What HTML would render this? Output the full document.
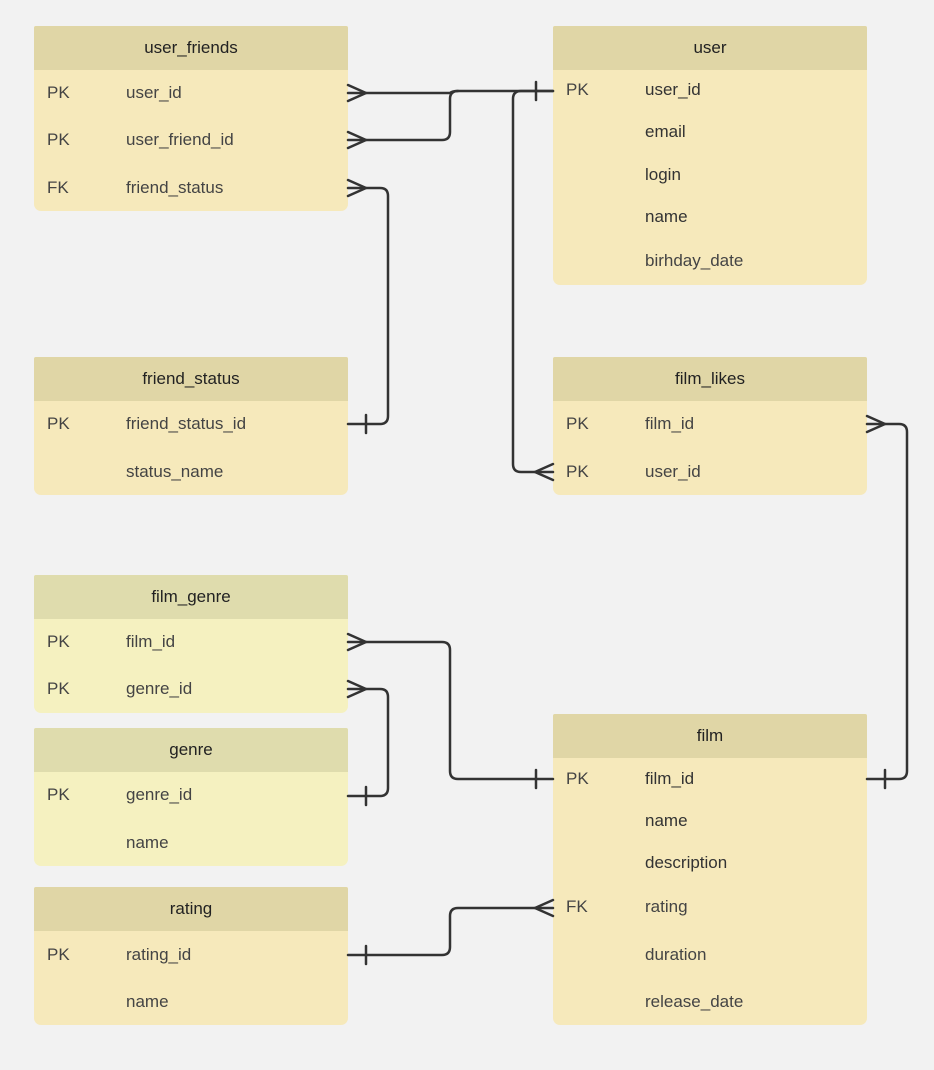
<!DOCTYPE html>
<html><head><meta charset="utf-8"><style>
body{margin:0;width:934px;height:1070px;background:#f2f2f2;position:relative;overflow:hidden;font-family:"Liberation Sans",sans-serif;}
.t{position:absolute;width:314px;background:#f6e9bb;border-radius:2px 2px 7px 7px;overflow:hidden;}
.t.g{background:#f5f1c0;}
.h{height:44px;line-height:44px;text-align:center;background:#e0d6a6;color:#222;font-size:17px;}
.t.g .h{background:#dfdcad;}
.r{position:absolute;font-size:17px;color:#444;line-height:20px;}
.k{left:13px}.f{left:92px}
svg{position:absolute;left:0;top:0}
</style></head><body>

<div class="t" style="left:34px;top:26px;height:185px"><div class="h">user_friends</div>
<div class="r k" style="top:57px">PK</div><div class="r f" style="top:57px">user_id</div>
<div class="r k" style="top:104px">PK</div><div class="r f" style="top:104px">user_friend_id</div>
<div class="r k" style="top:152px">FK</div><div class="r f" style="top:152px">friend_status</div></div>

<div class="t" style="left:553px;top:26px;height:259px"><div class="h">user</div>
<div class="r k" style="top:54px">PK</div><div class="r f" style="top:54px;color:#333">user_id</div>
<div class="r f" style="top:96px;color:#333">email</div>
<div class="r f" style="top:139px;color:#333">login</div>
<div class="r f" style="top:181px;color:#333">name</div>
<div class="r f" style="top:225px">birhday_date</div></div>

<div class="t" style="left:34px;top:357px;height:138px"><div class="h">friend_status</div>
<div class="r k" style="top:57px">PK</div><div class="r f" style="top:57px">friend_status_id</div>
<div class="r f" style="top:105px">status_name</div></div>

<div class="t" style="left:553px;top:357px;height:138px"><div class="h">film_likes</div>
<div class="r k" style="top:57px">PK</div><div class="r f" style="top:57px">film_id</div>
<div class="r k" style="top:105px">PK</div><div class="r f" style="top:105px">user_id</div></div>

<div class="t g" style="left:34px;top:575px;height:138px"><div class="h">film_genre</div>
<div class="r k" style="top:57px">PK</div><div class="r f" style="top:57px">film_id</div>
<div class="r k" style="top:104px">PK</div><div class="r f" style="top:104px">genre_id</div></div>

<div class="t g" style="left:34px;top:728px;height:138px"><div class="h">genre</div>
<div class="r k" style="top:57px">PK</div><div class="r f" style="top:57px">genre_id</div>
<div class="r f" style="top:105px">name</div></div>

<div class="t" style="left:34px;top:887px;height:138px"><div class="h">rating</div>
<div class="r k" style="top:58px">PK</div><div class="r f" style="top:58px">rating_id</div>
<div class="r f" style="top:105px">name</div></div>

<div class="t" style="left:553px;top:714px;height:311px"><div class="h">film</div>
<div class="r k" style="top:55px">PK</div><div class="r f" style="top:55px;color:#333">film_id</div>
<div class="r f" style="top:97px;color:#333">name</div>
<div class="r f" style="top:139px;color:#333">description</div>
<div class="r k" style="top:183px">FK</div><div class="r f" style="top:183px">rating</div>
<div class="r f" style="top:231px">duration</div>
<div class="r f" style="top:278px">release_date</div></div>

<svg width="934" height="1070" fill="none" stroke="#333" stroke-width="2.5" stroke-linecap="round" stroke-linejoin="round">
<path d="M348 93 H450 Q452 91 458 91 H553"/>
<path d="M348 140 H442 Q450 140 450 132 V99 Q450 91 458 91"/>
<path d="M348 188 H380 Q388 188 388 196 V416 Q388 424 380 424 H348"/>
<path d="M553 91 H521 Q513 91 513 99 V464 Q513 472 521 472 H553"/>
<path d="M867 424 H899 Q907 424 907 432 V771 Q907 779 899 779 H867"/>
<path d="M348 642 H442 Q450 642 450 650 V771 Q450 779 458 779 H553"/>
<path d="M348 689 H380 Q388 689 388 697 V788 Q388 796 380 796 H348"/>
<path d="M348 955 H442 Q450 955 450 947 V916 Q450 908 458 908 H553"/>
<!-- crow feet -->
<path d="M348 85 L366 93 L348 101"/>
<path d="M348 132 L366 140 L348 148"/>
<path d="M348 180 L366 188 L348 196"/>
<path d="M553 464 L535 472 L553 480"/>
<path d="M867 416 L885 424 L867 432"/>
<path d="M348 634 L366 642 L348 650"/>
<path d="M348 681 L366 689 L348 697"/>
<path d="M553 900 L535 908 L553 916"/>
<!-- bars -->
<path d="M536 82 V100"/>
<path d="M366 415 V433"/>
<path d="M885 770 V788"/>
<path d="M536 770 V788"/>
<path d="M366 787 V805"/>
<path d="M366 946 V964"/>
</svg>
</body></html>
